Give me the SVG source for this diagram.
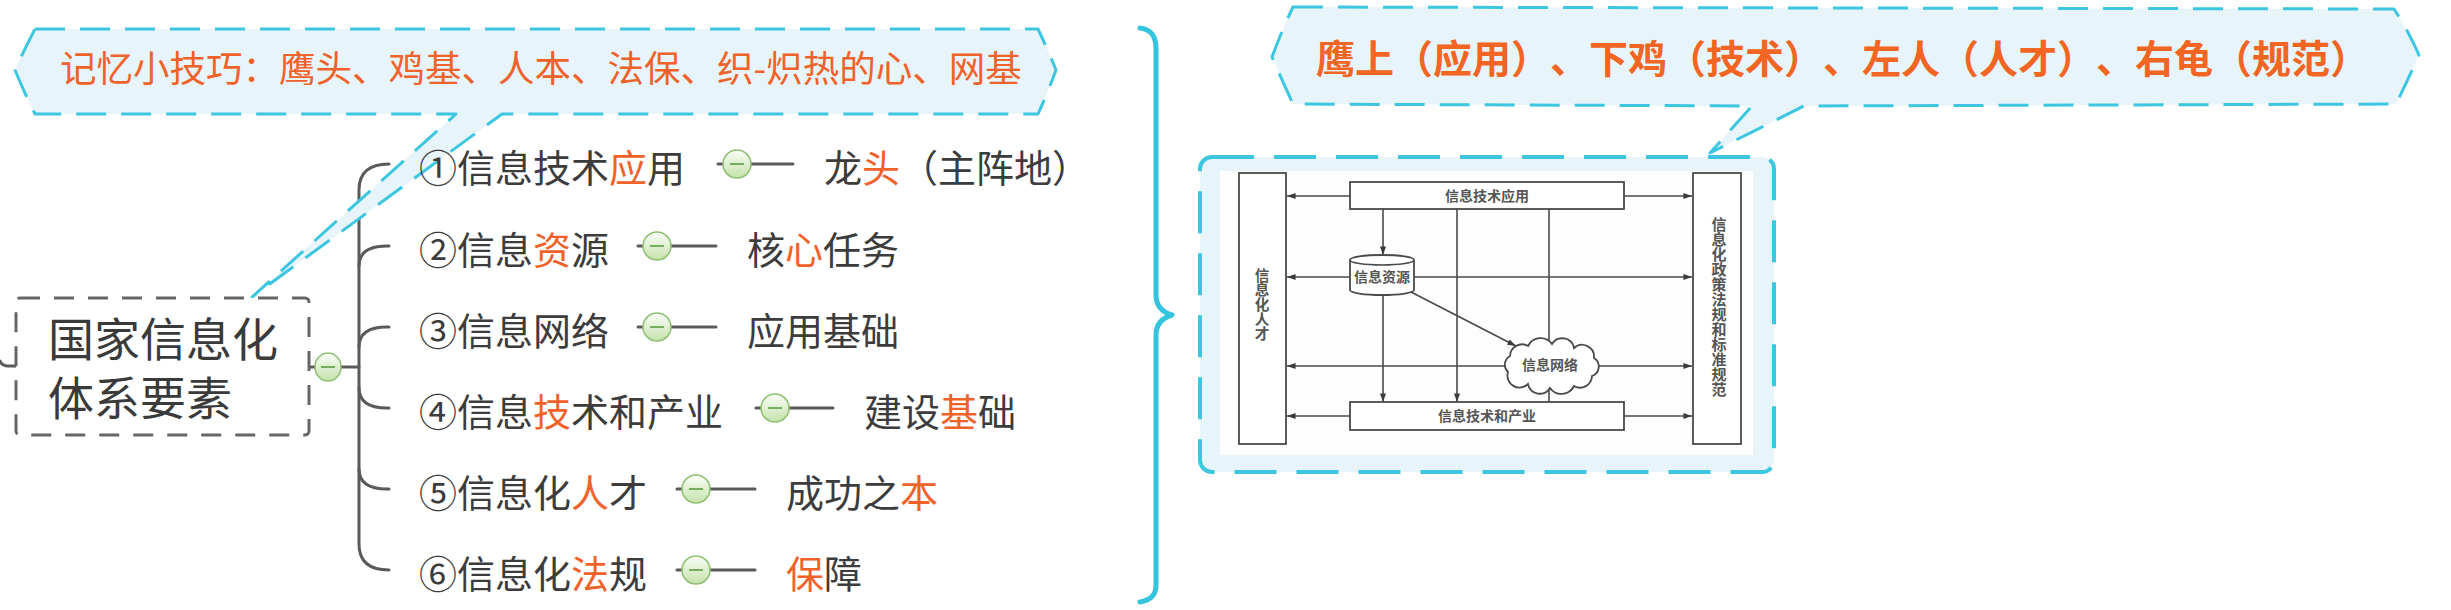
<svg xmlns="http://www.w3.org/2000/svg" width="2451" height="610" viewBox="0 0 2451 610">
<style>
.cj{font-family:"Noto Sans CJK SC","Noto Sans",sans-serif;text-spacing-trim:space-all}
.br{font-size:38px;fill:#3c3c3c}
.or{fill:#F0622A}
.callout{fill:#E7F5FA;stroke:#3CC6E0;stroke-width:3;stroke-dasharray:30 15;stroke-linejoin:round}
.conn{fill:none;stroke:#5a5a5a;stroke-width:3;stroke-linecap:round}
.btn{fill:url(#btnGrad);stroke:#8fbf72;stroke-width:1.5}
.minus{stroke:#4f9a35;stroke-width:1.5}
.sc{fill:none;stroke:#4a4a4a;stroke-width:1.6}
.scbox{fill:#fff;stroke:#4a4a4a;stroke-width:1.8}
.sct{font-family:"Noto Sans CJK SC",sans-serif;font-size:14px;font-weight:bold;fill:#555;text-anchor:middle}
.vt{font-family:"Noto Sans CJK SC",sans-serif;font-weight:bold;fill:#555;writing-mode:vertical-rl}
.arr{fill:none;stroke:#4a4a4a;stroke-width:1.6;marker-end:url(#ah)}
</style>
<defs>
<linearGradient id="btnGrad" x1="0" y1="0" x2="0" y2="1">
<stop offset="0" stop-color="#fbfef8"/>
<stop offset="1" stop-color="#c4e2ab"/>
</linearGradient>
<marker id="ah" viewBox="0 0 10 7" refX="10" refY="3.5" markerWidth="9" markerHeight="6" orient="auto" markerUnits="userSpaceOnUse">
<path d="M0,0 L10,3.5 L0,7 z" fill="#3a3a3a"/>
</marker>
</defs>
<rect width="2451" height="610" fill="#ffffff"/>

<g id="connectors">
<path class="conn" d="M0,361 Q2,366 8,366 L16,366"/>
<path class="conn" d="M309,367 L359,367"/>
<path class="conn" d="M389,164 Q359,164 359,190 L359,544 Q359,570 389,570"/>
<path class="conn" d="M359,266 Q359,246 387,246 L389,246"/>
<path class="conn" d="M359,347 Q359,327 387,327 L389,327"/>
<path class="conn" d="M359,388 Q359,408 387,408 L389,408"/>
<path class="conn" d="M359,469 Q359,489 387,489 L389,489"/>
<path class="conn" d="M718,164 L793,164"/>
<path class="conn" d="M638,246 L716,246"/>
<path class="conn" d="M638,327 L716,327"/>
<path class="conn" d="M756,408 L833,408"/>
<path class="conn" d="M677,489 L755,489"/>
<path class="conn" d="M677,570 L755,570"/>
<path d="M1140,28 C1152,30 1156,36 1156,50 L1156,295 C1156,306 1162,312 1172,315 C1162,318 1156,324 1156,335 L1156,585 C1156,596 1150,600 1140,602" fill="none" stroke="#35C4DE" stroke-width="5" stroke-linecap="round" stroke-linejoin="round"/>
</g>

<g id="tip-left">
<path class="callout" d="M35,29 L1038,29 Q1048,50 1056,70 Q1048,92 1038,114 L502,114 L252,297 L456,114 L35,114 Q24,92 15,70 Q24,50 35,29 Z"/>
<text class="cj" x="60" y="82" font-size="36.5" fill="#F0622A">记忆小技巧：鹰头、鸡基、人本、法保、织-炽热的心、网基</text>
</g>

<g id="root">
<rect x="16" y="298" width="293" height="137" rx="4" fill="#ffffff" stroke="#666" stroke-width="3" stroke-dasharray="20 14"/>
<text class="cj" font-size="46" fill="#3a3a3a"><tspan x="48" y="356">国家信息化</tspan><tspan x="48" y="415">体系要素</tspan></text>
<ellipse class="btn" cx="328" cy="367" rx="13" ry="14"/>
<line class="minus" x1="321" y1="367" x2="335" y2="367"/>
</g>

<g id="b1">
<text class="cj br" x="419" y="182">①信息技术<tspan class="or">应</tspan>用</text>
<circle class="btn" cx="737" cy="164" r="14"/><line class="minus" x1="730" y1="164" x2="744" y2="164"/>
<text class="cj br" x="824" y="182">龙<tspan class="or">头</tspan>（主阵地）</text>
</g>
<g id="b2">
<text class="cj br" x="419" y="264">②信息<tspan class="or">资</tspan>源</text>
<circle class="btn" cx="657" cy="246" r="14"/><line class="minus" x1="650" y1="246" x2="664" y2="246"/>
<text class="cj br" x="747" y="264">核<tspan class="or">心</tspan>任务</text>
</g>
<g id="b3">
<text class="cj br" x="419" y="345">③信息网络</text>
<circle class="btn" cx="657" cy="327" r="14"/><line class="minus" x1="650" y1="327" x2="664" y2="327"/>
<text class="cj br" x="747" y="345">应用基础</text>
</g>
<g id="b4">
<text class="cj br" x="419" y="426">④信息<tspan class="or">技</tspan>术和产业</text>
<circle class="btn" cx="775" cy="408" r="14"/><line class="minus" x1="768" y1="408" x2="782" y2="408"/>
<text class="cj br" x="864" y="426">建设<tspan class="or">基</tspan>础</text>
</g>
<g id="b5">
<text class="cj br" x="419" y="507">⑤信息化<tspan class="or">人</tspan>才</text>
<circle class="btn" cx="696" cy="489" r="14"/><line class="minus" x1="689" y1="489" x2="703" y2="489"/>
<text class="cj br" x="786" y="507">成功之<tspan class="or">本</tspan></text>
</g>
<g id="b6">
<text class="cj br" x="419" y="588">⑥信息化<tspan class="or">法</tspan>规</text>
<circle class="btn" cx="696" cy="570" r="14"/><line class="minus" x1="689" y1="570" x2="703" y2="570"/>
<text class="cj br" x="786" y="588"><tspan class="or">保</tspan>障</text>
</g>

<g id="tip-right">
<path class="callout" d="M1293,7 L2394,9 Q2408,30 2419,55 Q2408,80 2396,104 L1804,106 L1710,153 L1752,106 L1293,104 Q1282,80 1272,57 Q1282,30 1293,7 Z"/>
<text class="cj" x="1316" y="73" font-size="39" font-weight="bold" fill="#F26522">鹰上（应用）、下鸡（技术）、左人（人才）、右龟（规范）</text>
</g>

<g id="image-box">
<rect x="1200" y="157" width="574" height="315" rx="12" fill="#E7F5FA" stroke="#3CC6E0" stroke-width="4" stroke-dasharray="42 20"/>
<rect x="1220" y="171" width="533" height="284" fill="#fdfdfd"/>
<g id="scan">
<line class="sc" x1="1549" y1="209" x2="1549" y2="402"/>
<line class="arr" x1="1383" y1="209" x2="1383" y2="255"/>
<line class="arr" x1="1383" y1="295" x2="1383" y2="402"/>
<line class="arr" x1="1457" y1="209" x2="1457" y2="402"/>
<line class="arr" x1="1350" y1="196" x2="1287" y2="196"/>
<line class="arr" x1="1624" y1="196" x2="1692" y2="196"/>
<line class="arr" x1="1350" y1="277" x2="1287" y2="277"/>
<line class="arr" x1="1414" y1="277" x2="1692" y2="277"/>
<line class="arr" x1="1508" y1="366" x2="1287" y2="366"/>
<line class="arr" x1="1594" y1="366" x2="1692" y2="366"/>
<line class="arr" x1="1350" y1="416" x2="1287" y2="416"/>
<line class="arr" x1="1624" y1="416" x2="1692" y2="416"/>
<line class="arr" x1="1411" y1="292" x2="1516" y2="346"/>
<rect class="scbox" x="1239" y="173" width="47" height="271"/>
<rect class="scbox" x="1693" y="173" width="48" height="271"/>
<rect class="scbox" x="1350" y="182" width="274" height="27"/>
<rect class="scbox" x="1350" y="402" width="274" height="28"/>
<path class="scbox" d="M1350,260 L1350,290 A32,5 0 0,0 1414,290 L1414,260 A32,5 0 0,0 1350,260 Z"/>
<path class="sc" d="M1350,260 A32,5 0 0,0 1414,260"/>
<path class="scbox" d="M1508,372 a10,10 0 0,1 2,-16 a12,12 0 0,1 18,-10 a14,14 0 0,1 24,-2 a12,12 0 0,1 22,4 a12,12 0 0,1 20,10 a10,10 0 0,1 -2,18 a12,12 0 0,1 -18,10 a14,14 0 0,1 -24,2 a12,12 0 0,1 -22,-4 a12,12 0 0,1 -20,-12 z"/>
<text class="sct" x="1487" y="201">信息技术应用</text>
<text class="sct" x="1487" y="421">信息技术和产业</text>
<text class="sct" x="1382" y="282">信息资源</text>
<text class="sct" x="1550" y="370">信息网络</text>
<text class="vt" x="1262" y="268" font-size="14.6">信息化人才</text>
<text class="vt" x="1719" y="217" font-size="15">信息化政策法规和标准规范</text>
</g>
</g>
</svg>
